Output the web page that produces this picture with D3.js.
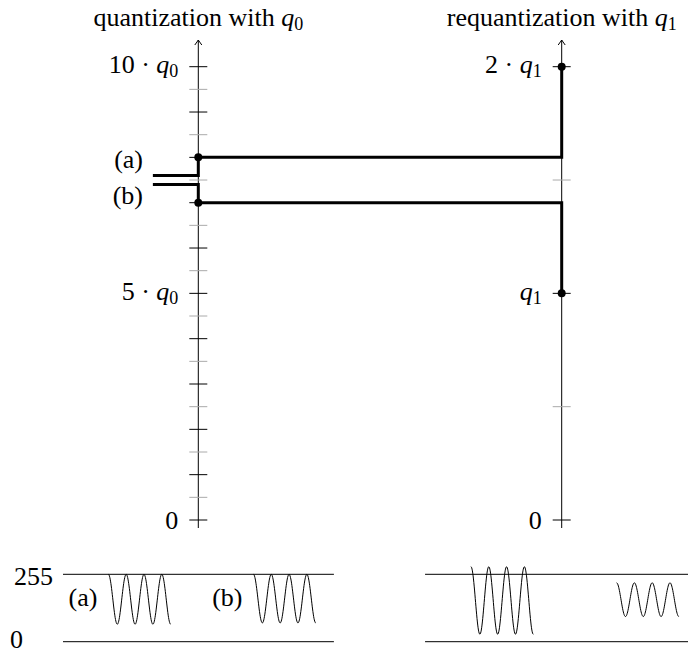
<!DOCTYPE html>
<html>
<head>
<meta charset="utf-8">
<script src="https://cdn.jsdelivr.net/npm/d3@7"></script>
<style>
  body { margin: 0; background: #fff; }
  svg text { font-family: 'Liberation Serif', 'Times New Roman', Times, serif; font-size: 26px; fill: #000; }
</style>
</head>
<body>
<div id="chart"></div>
<script>
// values in units of q0 (left axis) and q1 = 5 q0 (right axis)
const q0Ticks = [0, 0.5, 1, 1.5, 2, 2.5, 3, 3.5, 4, 4.5, 5, 5.5, 6, 6.5, 7, 7.5, 8, 8.5, 9, 9.5, 10];
const q1Ticks = [0, 0.5, 1, 1.5, 2];
const q0LabelValues = [0, 5, 10];
const q0LabelNums = ["0", "5", "10"];
const q1LabelValues = [0, 1, 2];
const q1LabelNums = ["0", "", "2"];

const blockNames = ["(a)", "(b)"];
const inputLevels = [7.6, 7.4];   // in q0
const q0Levels = [8, 7];          // in q0
const q1Levels = [2, 1];          // in q1

// block waveforms (pixel values 0..255): centre and amplitude
const beforeCenter = [160.4, 162.9];
const beforeAmp = [94.6, 92.1];
const afterCenter = [156, 159];
const afterAmp = [128, 64];
const waveCycles = 3.5;
const beforeStart = [2.55, 10.7];  // in periods
const afterStart = [22.92, 31.1];

const width = 688, height = 654;
const svg = d3.select("#chart").append("svg")
    .attr("width", width)
    .attr("height", height)
    .attr("font-family", "'Liberation Serif', 'Times New Roman', serif");

const xTop = d3.scaleLinear().domain([0, 1]).range([198.3, 561.7]);
const yL = d3.scaleLinear().domain([0, 10]).range([520, 66.7]);
const yR = d3.scaleLinear().domain([0, 2]).range([520, 66.7]);

const xB = d3.scaleLinear().domain([0, 1]).range([63, 80.8]);  // one period
const yB = d3.scaleLinear().domain([0, 255]).range([641.7, 574.3]);

function mathLabel(g, num, sym, sub) {
    if (num) g.append("tspan").text(num + (sym ? " \u00b7 " : ""));
    if (sym) {
        g.append("tspan").attr("font-style", "italic").text(sym);
        g.append("tspan").attr("font-size", 18).attr("dy", 4).text(sub);
    }
}

// titles
const t0 = svg.append("text").attr("x", xTop(0)).attr("y", 26).attr("text-anchor", "middle");
t0.append("tspan").text("quantization with ");
mathLabel(t0, null, "q", "0");
const t1 = svg.append("text").attr("x", xTop(1)).attr("y", 26).attr("text-anchor", "middle");
t1.append("tspan").text("requantization with ");
mathLabel(t1, null, "q", "1");

// axes
function drawAxis(x, y, ticks, labelValues, labelNums, sym, sub) {
    const g = svg.append("g");
    g.append("line")
        .attr("x1", x).attr("x2", x)
        .attr("y1", y(0) + 8).attr("y2", 40)
        .attr("stroke", "#000").attr("stroke-width", 1);
    g.append("path")
        .attr("d", `M${x - 3.5},${45} Q${x - 1},${41.5} ${x},${40} Q${x + 1},${41.5} ${x + 3.5},${45}`)
        .attr("fill", "none").attr("stroke", "#000").attr("stroke-width", 1);
    g.selectAll(".tick")
        .data(ticks)
        .join("line")
        .attr("x1", x - 9).attr("x2", x + 9)
        .attr("y1", d => y(d)).attr("y2", d => y(d))
        .attr("stroke", d => Number.isInteger(d) ? "#000" : "#aaa")
        .attr("stroke-width", 1);
    labelValues.forEach((v, i) => {
        const t = g.append("text")
            .attr("x", x - 20)
            .attr("y", y(v) + (v === 0 ? 9 : 6.5))
            .attr("text-anchor", "end");
        if (v === 0) t.text("0");
        else mathLabel(t, labelNums[i], sym, sub);
    });
}

drawAxis(xTop(0), yL, q0Ticks, q0LabelValues, q0LabelNums, "q", "0");
drawAxis(xTop(1), yR, q1Ticks, q1LabelValues, q1LabelNums, "q", "1");

// quantization paths
const paths = svg.append("g");
blockNames.forEach((name, i) => {
    const pts = [
        [xTop(-0.125), yL(inputLevels[i])],
        [xTop(0), yL(inputLevels[i])],
        [xTop(0), yL(q0Levels[i])],
        [xTop(1), yL(q0Levels[i])],
        [xTop(1), yR(q1Levels[i])]
    ];
    paths.append("path")
        .attr("d", d3.line()(pts))
        .attr("fill", "none").attr("stroke", "#000").attr("stroke-width", 3);
    paths.append("circle").attr("cx", xTop(0)).attr("cy", yL(q0Levels[i])).attr("r", 4);
    paths.append("circle").attr("cx", xTop(1)).attr("cy", yR(q1Levels[i])).attr("r", 4);
    paths.append("text")
        .attr("x", 143)
        .attr("y", yL(inputLevels[i]) + (i === 0 ? -7 : 19))
        .attr("text-anchor", "end")
        .text(name);
});

// bottom: block signals
const bottom = svg.append("g");
[[0, 15.22], [20.34, 35.5]].forEach(r => {
    [0, 255].forEach(v => {
        bottom.append("line")
            .attr("x1", xB(r[0])).attr("x2", xB(r[1]))
            .attr("y1", yB(v)).attr("y2", yB(v))
            .attr("stroke", "#000").attr("stroke-width", 1);
    });
});
bottom.append("text").attr("x", 53).attr("y", yB(255) + 10.5).attr("text-anchor", "end").text("255");
bottom.append("text").attr("x", 23).attr("y", yB(0) + 6.5).attr("text-anchor", "end").text("0");

const wave = d3.line().curve(d3.curveBasis);
function drawWave(start, c, a) {
    const pts = d3.range(0, waveCycles + 0.001, 0.02)
        .map(t => [xB(start + t), yB(c + a * Math.cos(2 * Math.PI * t))]);
    bottom.append("path")
        .attr("d", wave(pts))
        .attr("fill", "none").attr("stroke", "#000").attr("stroke-width", 1);
}
blockNames.forEach((name, i) => {
    drawWave(beforeStart[i], beforeCenter[i], beforeAmp[i]);
    drawWave(afterStart[i], afterCenter[i], afterAmp[i]);
    bottom.append("text")
        .attr("x", xB(beforeStart[i]) - 11)
        .attr("y", 606)
        .attr("text-anchor", "end")
        .text(name);
});
</script>
</body>
</html>
